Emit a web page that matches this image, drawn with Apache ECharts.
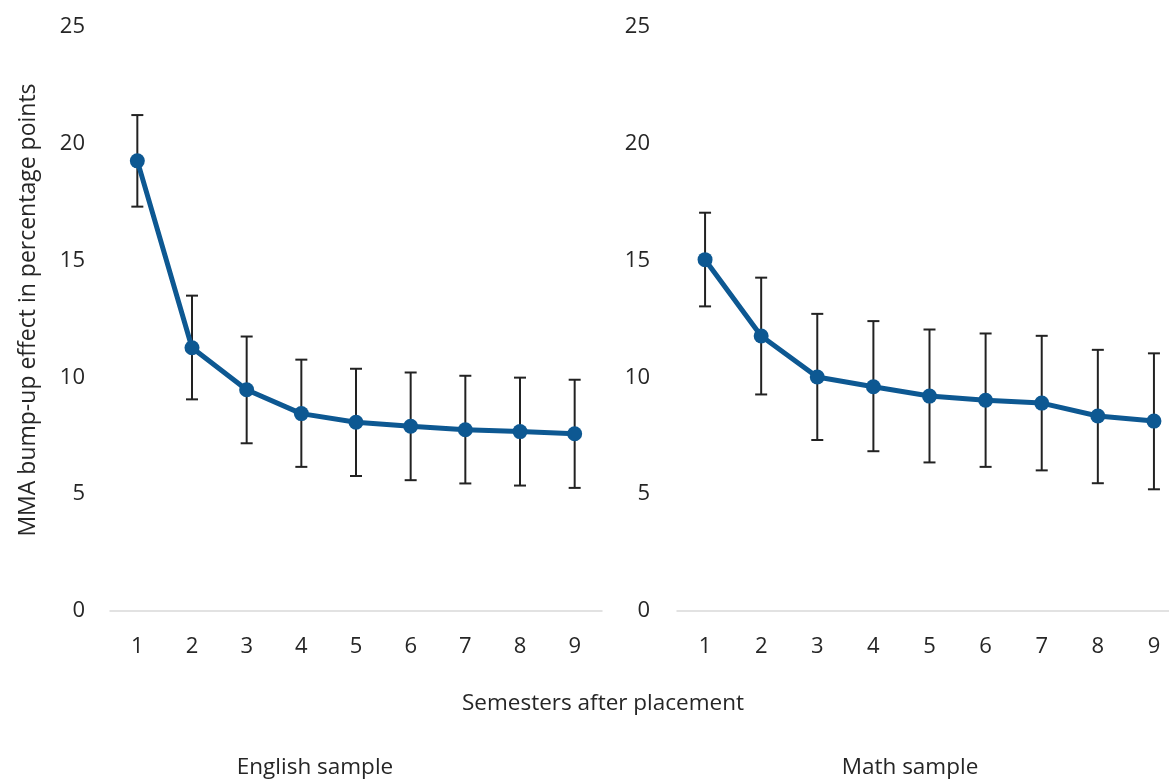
<!DOCTYPE html>
<html>
<head>
<meta charset="utf-8">
<script src="https://cdn.jsdelivr.net/npm/echarts@6/dist/echarts.min.js"></script>
<style>
  html, body { margin: 0; padding: 0; background: #fff; }
  #chart { width: 1169px; height: 781px; }
</style>
</head>
<body>
<div id="chart"></div>
<script>
// Semesters after placement
const semesters = ['1', '2', '3', '4', '5', '6', '7', '8', '9'];
const yTicks = [0, 5, 10, 15, 20, 25];

// English sample: point estimate with lower/upper confidence bounds
const englishEst = [19.27, 11.27, 9.47, 8.45, 8.08, 7.91, 7.76, 7.68, 7.59];
const englishLow = [17.31, 9.06, 7.18, 6.17, 5.78, 5.60, 5.46, 5.37, 5.27];
const englishHigh = [21.23, 13.50, 11.75, 10.76, 10.37, 10.21, 10.07, 9.99, 9.90];

// Math sample
const mathEst = [15.04, 11.77, 10.02, 9.60, 9.20, 9.02, 8.90, 8.35, 8.13];
const mathLow = [13.04, 9.27, 7.32, 6.84, 6.36, 6.17, 6.02, 5.47, 5.21];
const mathHigh = [17.05, 14.27, 12.72, 12.41, 12.05, 11.88, 11.78, 11.18, 11.03];

const FONT = '"Open Sans", "Noto Sans", sans-serif';
const TEXT = '#262626';
const BLUE = '#0d5892';

function errorData(low, high) {
  return semesters.map((s, i) => [i, low[i], high[i]]);
}

function renderErrorBar(params, api) {
  const x = api.value(0);
  const lo = api.coord([x, api.value(1)]);
  const hi = api.coord([x, api.value(2)]);
  const half = 6;
  const style = { stroke: '#222', lineWidth: 2 };
  return {
    type: 'group',
    children: [
      { type: 'line', shape: { x1: lo[0], y1: lo[1], x2: hi[0], y2: hi[1] }, style },
      { type: 'line', shape: { x1: lo[0] - half, y1: lo[1], x2: lo[0] + half, y2: lo[1] }, style },
      { type: 'line', shape: { x1: hi[0] - half, y1: hi[1], x2: hi[0] + half, y2: hi[1] }, style }
    ]
  };
}

function xAxisFor(gridIndex) {
  return {
    type: 'category',
    gridIndex,
    data: semesters,
    boundaryGap: true,
    axisLine: { show: true, lineStyle: { color: '#d9d9d9', width: 1.5 } },
    axisTick: { show: false },
    axisLabel: { color: TEXT, fontFamily: FONT, fontSize: 22, margin: 25 }
  };
}

function yAxisFor(gridIndex, margin) {
  return {
    type: 'value',
    gridIndex,
    min: yTicks[0],
    max: yTicks[yTicks.length - 1],
    interval: 5,
    axisLine: { show: false },
    axisTick: { show: false },
    splitLine: { show: false },
    axisLabel: { color: TEXT, fontFamily: FONT, fontSize: 22, margin }
  };
}

function lineSeries(idx, data) {
  return {
    type: 'line',
    xAxisIndex: idx,
    yAxisIndex: idx,
    data,
    z: 3,
    symbol: 'circle',
    symbolSize: 15,
    lineStyle: { color: BLUE, width: 5 },
    itemStyle: { color: BLUE },
    emphasis: { disabled: true },
    animation: false
  };
}

function barSeries(idx, low, high) {
  return {
    type: 'custom',
    xAxisIndex: idx,
    yAxisIndex: idx,
    data: errorData(low, high),
    renderItem: renderErrorBar,
    z: 2,
    animation: false
  };
}

const chart = echarts.init(document.getElementById('chart'));
chart.setOption({
  backgroundColor: '#ffffff',
  animation: false,
  grid: [
    { left: 110, width: 492, top: 27, bottom: 170, outerBoundsMode: 'none' },
    { left: 677, width: 505, top: 27, bottom: 170, outerBoundsMode: 'none' }
  ],
  xAxis: [xAxisFor(0), xAxisFor(1)],
  yAxis: [yAxisFor(0, 25), yAxisFor(1, 27)],
  series: [
    barSeries(0, englishLow, englishHigh),
    lineSeries(0, englishEst),
    barSeries(1, mathLow, mathHigh),
    lineSeries(1, mathEst)
  ],
  graphic: [
    {
      type: 'text',
      x: 28, y: 310,
      rotation: Math.PI / 2,
      style: {
        text: 'MMA bump-up effect in percentage points',
        fill: TEXT, font: '23px ' + FONT,
        align: 'center', verticalAlign: 'middle'
      }
    },
    {
      type: 'text',
      x: 603, y: 704,
      style: {
        text: 'Semesters after placement',
        fill: TEXT, font: '22.5px ' + FONT,
        align: 'center', verticalAlign: 'middle'
      }
    },
    {
      type: 'text',
      x: 315, y: 768,
      style: {
        text: 'English sample',
        fill: TEXT, font: '22.5px ' + FONT,
        align: 'center', verticalAlign: 'middle'
      }
    },
    {
      type: 'text',
      x: 910, y: 768,
      style: {
        text: 'Math sample',
        fill: TEXT, font: '22.5px ' + FONT,
        align: 'center', verticalAlign: 'middle'
      }
    }
  ]
});
</script>
</body>
</html>
